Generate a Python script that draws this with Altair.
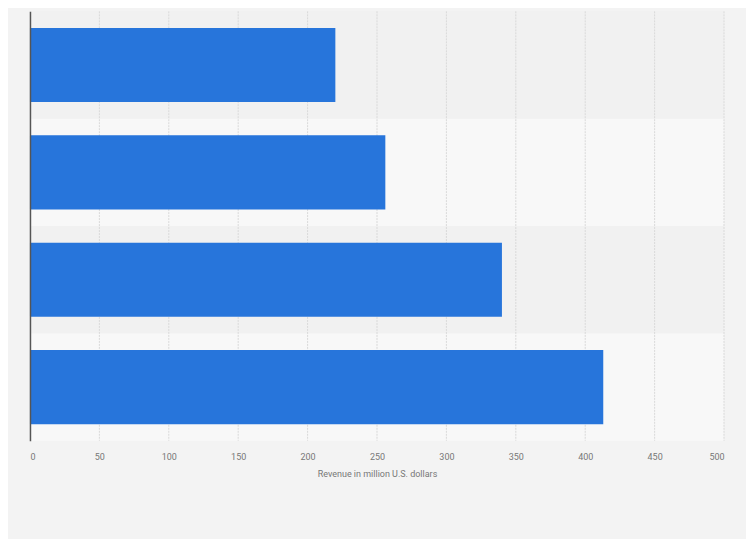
import altair as alt
import pandas as pd

categories = ["2019", "2020", "2021", "2022"]
revenue = [220, 256, 340, 413]
band_fill = ["#f1f1f1", "#f8f8f8", "#f1f1f1", "#f8f8f8"]
tick_values = [0, 50, 100, 150, 200, 250, 300, 350, 400, 450, 500]

bars_df = pd.DataFrame({"category": categories, "revenue": revenue})
bands_df = pd.DataFrame({
    "start": list(range(len(categories))),
    "end": [i + 1 for i in range(len(categories))],
    "fill": band_fill,
})
grid_df = pd.DataFrame({"revenue": tick_values[1:]})

W, H = 695, 430
xscale = alt.Scale(domain=[0, 500], nice=False)
xaxis = alt.Axis(
    values=tick_values,
    title="Revenue in million U.S. dollars",
    grid=False,
    domain=False,
    ticks=False,
    labelFont="Roboto",
    labelFontSize=9,
    labelColor="#777777",
    labelPadding=12,
    titleFont="Roboto",
    titleFontSize=9,
    titleFontWeight="normal",
    titleColor="#777777",
    titlePadding=8,
)

bands = alt.Chart(bands_df).mark_rect().encode(
    x=alt.value(0),
    x2=alt.value(W),
    y=alt.Y("start:Q", scale=alt.Scale(domain=[0, 4], reverse=True), axis=None),
    y2="end:Q",
    color=alt.Color("fill:N", scale=None),
)

grid = alt.Chart(grid_df).mark_rule(
    color="#d9d9d9", strokeDash=[2, 1], strokeWidth=1
).encode(
    x=alt.X("revenue:Q", scale=xscale, axis=xaxis, title="Revenue in million U.S. dollars"),
)

bars = alt.Chart(bars_df).mark_bar(color="#2775db").encode(
    x=alt.X("revenue:Q", scale=xscale, axis=xaxis, title="Revenue in million U.S. dollars"),
    y=alt.Y(
        "category:N",
        sort=categories,
        scale=alt.Scale(paddingInner=0.31, paddingOuter=0.155),
        axis=alt.Axis(
            labels=False,
            ticks=False,
            title=None,
            grid=False,
            domain=True,
            domainColor="#555555",
            domainWidth=1.5,
            zindex=1,
        ),
    ),
)

chart = (
    alt.layer(bands, grid, bars)
    .resolve_scale(y="independent")
    .properties(
        width=W,
        height=H,
        background="#f3f3f3",
        padding={"left": 22, "top": 2, "right": 21, "bottom": 60},
    )
    .configure_view(stroke=None)
)

chart.save("out.html", embed_options={"renderer": "svg", "actions": False})
